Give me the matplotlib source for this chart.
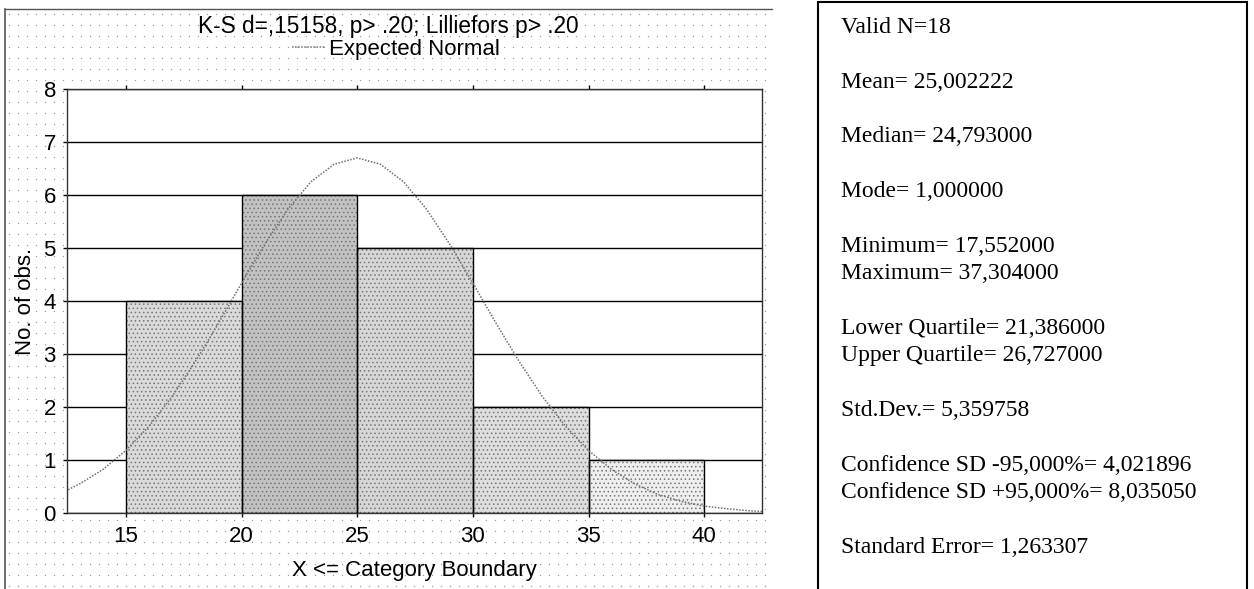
import numpy as np
import matplotlib.pyplot as plt
from matplotlib.lines import Line2D
from matplotlib.patches import Rectangle

# histogram data
bin_left = [15, 20, 25, 30, 35]
counts = [4, 6, 5, 2, 1]
bar_tones = ['#dadada', '#c2c2c2', '#d6d6d6', '#dedede', '#eeeeee']

# expected normal curve
curve_x = [12.5, 13, 14, 15, 16, 17, 18, 19, 20, 21, 22, 23, 24, 25, 26, 27,
           28, 29, 30, 31, 32, 33, 34, 35, 36, 37, 38, 39, 40, 41, 42, 42.5]
curve_y = [0.44, 0.55, 0.82, 1.18, 1.64, 2.20, 2.86, 3.58, 4.34, 5.07, 5.73,
           6.25, 6.58, 6.70, 6.58, 6.25, 5.73, 5.07, 4.34, 3.58, 2.86, 2.20,
           1.64, 1.18, 0.82, 0.55, 0.35, 0.22, 0.13, 0.08, 0.04, 0.03]

x_ticks = [15, 20, 25, 30, 35, 40]
y_ticks = [0, 1, 2, 3, 4, 5, 6, 7, 8]

title = "K-S d=,15158, p> .20; Lilliefors p> .20"
stats_lines = ["Valid N=18", "", "Mean= 25,002222", "", "Median= 24,793000", "",
               "Mode= 1,000000", "", "Minimum= 17,552000", "Maximum= 37,304000", "",
               "Lower Quartile= 21,386000", "Upper Quartile= 26,727000", "",
               "Std.Dev.= 5,359758", "", "Confidence SD -95,000%= 4,021896",
               "Confidence SD +95,000%= 8,035050", "", "Standard Error= 1,263307"]

W, H = 1254, 589
plt.rcParams['font.family'] = ['Liberation Sans', 'DejaVu Sans']
plt.rcParams['hatch.linewidth'] = 0.6
fig = plt.figure(figsize=(W / 100, H / 100), dpi=100)

# dotted backdrop of the left panel
bg = fig.add_axes([5 / W, 0, 767 / W, 580 / H], zorder=0)
bg.set_xlim(0, 767)
bg.set_ylim(0, 580)
bg.axis('off')
gx, gy = np.meshgrid(np.arange(4, 767, 9), np.arange(3, 580, 11))
bg.plot(gx.ravel(), gy.ravel(), ls='none', marker='s', ms=0.85, mew=0,
        color='#9a9a9a')

fig.add_artist(Line2D([5 / W, 772 / W], [1 - 9 / H, 1 - 9 / H], color='#555555', lw=1))
fig.add_artist(Line2D([5 / W, 5 / W], [0, 1 - 9 / H], color='#555555', lw=1.2))

ax = fig.add_axes([67 / W, 1 - 513 / H, 695 / W, 424 / H], zorder=1)
ax.set_facecolor('white')

# bars: stipple first, outline on top
ax.bar(bin_left, counts, width=5, align='edge', color=bar_tones,
       hatch='....', edgecolor='#777777', linewidth=0, zorder=2)
ax.bar(bin_left, counts, width=5, align='edge', fill=False,
       edgecolor='black', linewidth=1, zorder=2.5)

ax.plot(curve_x, curve_y, color='#707070', ls=(0, (1, 1)), lw=1.1, zorder=3,
        label='Expected Normal')

ax.set_xlim(12.45, 42.5)
ax.set_ylim(0, 8)
ax.set_xticks(x_ticks)
ax.set_yticks(y_ticks)
ax.yaxis.grid(True, color='black', lw=1)
ax.set_axisbelow(True)
ax.tick_params(axis='both', labelsize=16, length=3, direction='out', width=1)
ax.tick_params(axis='x', top=True, pad=6)
ax.tick_params(axis='y', pad=5)
for s in ax.spines.values():
    s.set_color('#333333')
    s.set_linewidth(1)

ax.set_xlabel("X <= Category Boundary", fontsize=16, labelpad=10)
ax.set_ylabel("No. of obs.", fontsize=16, labelpad=5)

fig.text(388 / W, 1 - 27 / H, title, ha='center', va='center', fontsize=16.3)
fig.legend(loc='center', bbox_to_anchor=(396 / W, 1 - 49 / H), frameon=False,
           fontsize=16, handlelength=1.5, handletextpad=0.2)

# stats box on the right
fig.add_artist(Rectangle((818 / W, -0.01), 429 / W, 1.01 - 2 / H,
                         transform=fig.transFigure, fill=False,
                         edgecolor='black', lw=1.5))
for i, line in enumerate(stats_lines):
    if line:
        fig.text(841 / W, 1 - (33 + 27.35 * i) / H, line, ha='left', va='baseline',
                 fontsize=17, family=['Liberation Serif', 'DejaVu Serif'])

fig.savefig('out.png', dpi=100)
